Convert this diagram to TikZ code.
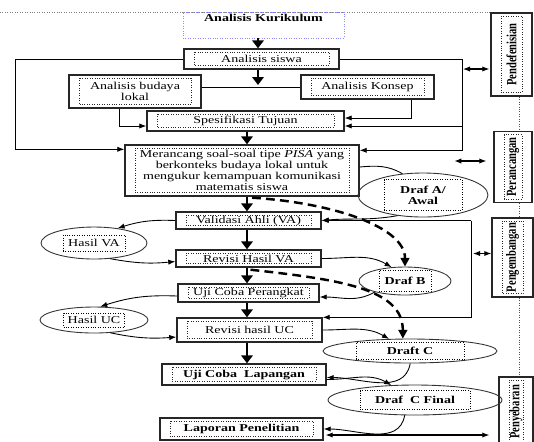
\documentclass[tikz,border=0pt]{standalone}
\usepackage{fontspec}
\setmainfont{Liberation Serif}[FakeStretch=1.33]
\newfontfamily\sisifont{Liberation Serif}[FakeStretch=0.75]
\usepackage{graphicx}
\usetikzlibrary{arrows.meta,shapes.geometric,calc}

\newcommand\ukuran{\fontsize{6}{6.3}\selectfont}

\tikzset{
  kotak/.style={draw=black!85, line width=0.8pt, align=center, inner sep=0pt,
    path picture={\draw[densely dotted, line width=0.4pt]
      ([shift={(0.2cm,-0.06cm)}]path picture bounding box.north west) rectangle
      ([shift={(-0.2cm,0.07cm)}]path picture bounding box.south east);}},
  tebal/.style={font=\ukuran\bfseries},
  sisi/.style={kotak, font=\sisifont\bfseries\fontsize{8}{9}\selectfont},
  elips/.style={draw=black!80, ellipse, line width=0.5pt, inner sep=0pt},
  bingkai/.style={draw, densely dotted, line width=0.4pt, align=center, inner sep=0pt},
  garis/.style={line width=0.5pt},
  panah/.style={-{Latex[length=4pt,width=3pt]}, line width=0.5pt},
  panahtebal/.style={-{Triangle[length=4.5pt,width=6.5pt]}, line width=1.7pt},
  panahdua/.style={{Latex[length=4pt,width=3pt]}-{Latex[length=4pt,width=3pt]}, line width=0.6pt},
  putus/.style={-{Triangle[length=5pt,width=5pt]}, line width=1.4pt, dash pattern=on 5pt off 3pt},
}

\begin{document}
\begin{tikzpicture}[x=0.02cm, y=-0.02cm, font=\ukuran]
\useasboundingbox (0,0) rectangle (534,441);

\coordinate (garisatas) at (0,12);
\coordinate (ujungatas) at (530,12);
\coordinate (atas) at (258,0);
\coordinate (tengah) at (247,0);
\coordinate (kiri) at (15,0);
\coordinate (kanan) at (462,0);
\coordinate (kanan2) at (471,0);
\coordinate (sumbu) at (519,0);

\draw[gray, densely dotted] (garisatas) -- (ujungatas);

% tahap utama
\node[draw=blue!45, densely dotted, tebal, minimum width=3.22cm, minimum height=0.52cm, inner sep=0pt, text depth=0.3cm] (kur) at (263.5,25) {Analisis Kurikulum};
\node[kotak, minimum width=3.1cm, minimum height=0.4cm] (siswa) at (261.5,59) {Analisis siswa};
\node[kotak, minimum width=2.64cm, minimum height=0.66cm] (budaya) at (135,91.5) {Analisis budaya\\lokal};
\node[kotak, minimum width=2.66cm, minimum height=0.48cm] (konsep) at (367.5,87) {Analisis Konsep};
\node[kotak, minimum width=3.94cm, minimum height=0.4cm] (tujuan) at (245.5,121) {Spesifikasi Tujuan};
\node[kotak, minimum width=4.68cm, minimum height=1.02cm] (rancang) at (242,170.5) {Merancang soal-soal tipe \textit{PISA} yang\\berkonteks budaya lokal untuk\\mengukur kemampuan komunikasi\\matematis siswa};
\node[kotak, minimum width=2.9cm, minimum height=0.34cm] (va) at (248.5,220.5) {Validasi Ahli (VA)};
\node[kotak, minimum width=2.9cm, minimum height=0.34cm] (rva) at (248.5,258.5) {Revisi Hasil VA};
\node[kotak, minimum width=2.82cm, minimum height=0.36cm] (ucp) at (248.5,293) {Uji Coba Perangkat};
\node[kotak, minimum width=2.9cm, minimum height=0.48cm] (ruc) at (249.5,330) {Revisi hasil UC};
\node[kotak, tebal, minimum width=3.28cm, minimum height=0.42cm] (ucl) at (244,374.5) {Uji Coba~~Lapangan};
\node[kotak, tebal, minimum width=3.26cm, minimum height=0.44cm] (lap) at (241.5,429) {Laporan Penelitian};

% tahap 4D
\node[sisi, minimum width=0.82cm, minimum height=1.66cm] (pdf) at (511.5,54.5) {\rotatebox{90}{Pendefenisian}};
\node[sisi, minimum width=0.76cm, minimum height=1.42cm] (prc) at (513,167) {\rotatebox{90}{Perancangan}};
\node[sisi, minimum width=0.82cm, minimum height=1.58cm] (pgb) at (512.5,257.5) {\rotatebox{90}{Pengembangan}};
\node[sisi, minimum width=0.68cm, minimum height=1.4cm] (pyb) at (516,412) {\rotatebox{90}{Penyebaran}};

% hasil dan draf
\node[elips, minimum width=2.12cm, minimum height=0.64cm] (hva) at (94,243) {};
\node[bingkai, minimum width=1.24cm, minimum height=0.32cm] (hvat) at (hva) {Hasil VA};
\node[elips, minimum width=2.16cm, minimum height=0.52cm] (huc) at (94,320) {};
\node[bingkai, minimum width=1.22cm, minimum height=0.28cm] (huct) at (huc) {Hasil UC};
\node[elips, minimum width=2.6cm, minimum height=0.88cm] (dra) at (423,195) {};
\node[bingkai, tebal, minimum width=1.56cm, minimum height=0.62cm] (drat) at (dra) {Draf A/\\Awal};
\node[elips, minimum width=1.84cm, minimum height=0.56cm] (drb) at (405,281) {};
\node[bingkai, tebal, minimum width=1.04cm, minimum height=0.42cm] (drbt) at (drb) {Draf B};
\node[elips, minimum width=3.48cm, minimum height=0.48cm] (drc) at (410,351) {};
\node[bingkai, tebal, minimum width=2.16cm, minimum height=0.34cm] (drct) at (drc) {Draft C};
\node[elips, minimum width=3.48cm, minimum height=0.6cm] (drf) at (415,400) {};
\node[bingkai, tebal, minimum width=2.2cm, minimum height=0.38cm] (drft) at (drf) {Draf~~C Final};

% alur utama
\draw[panahtebal] (kur.south -| atas) -- (siswa.north -| atas);
\draw[panahtebal] (siswa.south -| atas) -- ($(atas |- konsep.west)+(0,-2)$);
\draw[garis] (budaya.east |- konsep.west) -- (konsep.west);
\foreach \a/\b in {tujuan/rancang,rancang/va,va/rva,rva/ucp,ucp/ruc,ruc/ucl}
  \draw[panahtebal] (\a.south -| tengah) -- (\b.north -| tengah);

\draw[panah] ($(budaya.south)+(-16,0)$) |- ($(tujuan.west)+(0,5)$);
\draw[panah] ($(konsep.south)+(43.5,0)$) |- ($(tujuan.east)+(0,-3)$);
\draw[panah] (siswa.east) -| ($(kanan |- rancang.north)+(0,6)$) -- ($(rancang.north east)+(0,6)$);
\draw[panah] ($(tujuan.east -| kanan)+(0,5)$) -- ($(tujuan.east)+(0,5)$);
\draw[panah] (siswa.west) -| ($(kiri |- rancang.north)+(0,5)$) -- ($(rancang.north west)+(0,5)$);

% draf
\draw[garis] ($(rancang.east)+(0,-3.5)$) to[out=5,in=150] (dra.134);
\draw[panah] (dra.219) to[out=190,in=5] (va.east);
\draw[panah] (va.east -| kanan2) -- (va.east);
\draw[panah] (va.east -| kanan2) |- (ruc.north east);
\draw[panah] (rva.east) to[out=0,in=150] (drb.134);
\draw[panah] (drb.200) to[out=210,in=0] ($(ucp.east)+(0,4)$);
\draw[panah] (ruc.east) to[out=0,in=150] (drc.150);
\draw[panah] (drc.271) to[out=-100,in=0] ($(ucl.east)+(0,3)$);
\draw[panah] ($(ucl.east)+(0,5)$) to[out=0,in=150] (drf.148);
\draw[panah] (drf.236) to[out=-100,in=0] (lap.east);

\draw[putus] ($(rancang.south)+(10,1)$) .. controls +(80,5) and +(0,-40) .. (drb.north);
\draw[putus] ($(rva.south)+(2,2)$) .. controls +(90,10) and +(0,-50) .. (drc.120);

% hasil validasi dan uji coba
\draw[panah] (va.west) to[bend right=10] (hva.32);
\draw[panah] (hva.316) to[bend right=8] ($(rva.west)+(0,3)$);
\draw[panah] ($(ucp.west)+(0,3)$) to[bend right=10] (huc.65);
\draw[panah] (huc.322) to[bend right=8] ($(ruc.west)+(0,7)$);

% hubungan ke tahap
\draw[panahdua] ($(kanan |- pdf.west)+(1,14.5)$) -- ($(pdf.west)+(-1,14.5)$);
\draw[panahdua] ($(prc.west)+(-39,-6)$) -- ($(prc.west)+(-7,-6)$);
\draw[panahdua] ($(kanan2 |- pgb.west)+(2,-4)$) -- ($(pgb.west)+(0,-4)$);
\draw[panahdua] ($(lap.east)+(2,6)$) -- ($(pyb.west |- lap.east)+(-9,6)$);
\foreach \a/\b in {pdf/prc,prc/pgb,pgb/pyb}
  \draw[densely dotted, black!70] (\a.south -| sumbu) -- (\b.north -| sumbu);
\end{tikzpicture}
\end{document}
